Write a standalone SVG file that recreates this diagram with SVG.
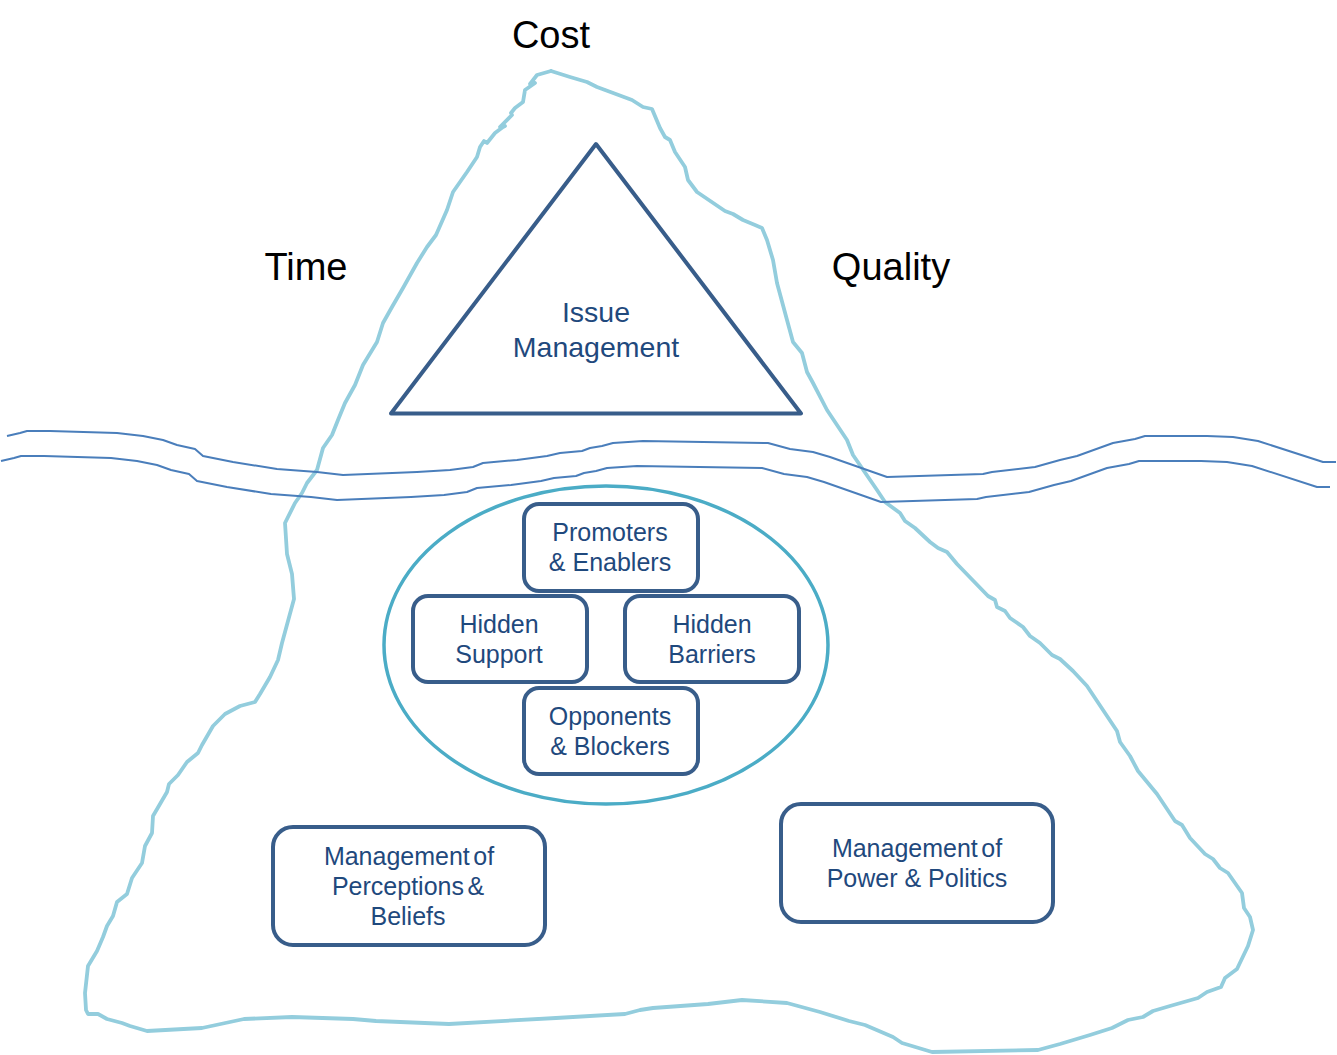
<svg xmlns="http://www.w3.org/2000/svg" xmlns:xlink="http://www.w3.org/1999/xlink" width="1337" height="1055" viewBox="0 0 1337 1055">
<style>
text{font-family:"Liberation Sans",Arial,sans-serif;text-anchor:middle}
.k{font-size:38px;fill:#000}
.t{font-size:25px;fill:#1f497d}
.i{font-size:28.5px;fill:#1f497d}
.w{word-spacing:-3.5px}
.box{fill:#fff;stroke:#385d8a;stroke-width:4}
.berg{fill:none;stroke:#93cddd;stroke-width:3.8;stroke-linejoin:round;stroke-linecap:round}
.water{fill:none;stroke:#4a7ebb;stroke-width:2;stroke-linejoin:round}
</style>
<defs>
<path id="waterline" d="M7 436L20 433L27 431L50 431L117 433L143 436L163 440L177 445L195 449L203 456L233 462L277 469L317 472L343 475L417 472L450 470L473 467L483 463L517 460L547 456L560 453L582 451L590 448L602 446L613 443L643 441L768 443L790 449L813 452L830 457L887 477L983 474L992 472L1035 467L1060 460L1077 456L1113 443L1135 439L1145 436L1207 436L1233 437L1258 441L1323 462L1336 462"/>
</defs>
<path id="iceberg" class="berg" d="M551 71L570 77L587 82L597 87L632 100L643 107L652 109L660 128L665 137L670 140L675 152L685 167L688 180L697 192L725 211L733 214L743 220L755 225L762 228L767 240L773 260L777 283L787 320L793 342L802 353L807 372L813 383L827 410L847 440L853 455L877 490L885 502L900 513L905 521L915 528L930 542L938 548L947 552L957 564L988 596L995 600L997 607L1005 611L1010 618L1023 627L1030 636L1040 643L1052 655L1060 659L1073 671L1087 686L1117 731L1120 742L1130 756L1138 771L1157 794L1175 821L1182 825L1190 838L1205 854L1213 859L1220 868L1228 873L1242 893L1244 908L1250 917L1253 930L1248 946L1237 969L1225 978L1221 987L1207 992L1198 998L1170 1006L1153 1011L1143 1017L1128 1020L1112 1028L1090 1035L1060 1044L1038 1050L932 1052L902 1043L893 1037L865 1025L849 1021L820 1012L787 1003L742 1000L708 1004L653 1008L640 1010L625 1014L556 1018L449 1024L376 1021L353 1019L292 1017L244 1019L202 1028L147 1031L130 1026L122 1023L107 1019L98 1014L88 1014L86 1010L85 993L88 966L97 951L103 937L107 926L113 916L117 902L127 894L132 878L142 863L145 846L152 833L153 816L160 804L167 792L169 784L178 775L187 762L198 753L202 745L213 726L225 714L240 706L255 702L260 694L270 677L278 660L282 643L288 621L294 599L292 574L287 554L285 523L295 503L302 493L307 483L317 470L323 448L332 435L338 420L345 403L355 385L363 365L377 342L383 323L392 307L403 288L417 263L427 247L436 235L447 210L453 192L467 172L477 157L480 147L484 141L487 143L495 133L503 127L505 126L500 127L512 115L511 113L515 108L523 102L525 90L535 83L530 84L537 75L551 71"/>
<g id="water">
<use class="water" xlink:href="#waterline" href="#waterline"/>
<use class="water" xlink:href="#waterline" href="#waterline" transform="translate(-6 25)"/>
</g>
<g id="cost"><text class="k" x="551" y="48">Cost</text></g>
<g id="time"><text class="k" x="306" y="280">Time</text></g>
<g id="quality"><text class="k" x="891" y="280">Quality</text></g>
<g id="issue-management">
<path d="M596 144L801 413.500H391Z" fill="none" stroke="#385d8a" stroke-width="4" stroke-linejoin="round"/>
<text class="i" x="596" y="322">Issue</text>
<text class="i" x="596" y="357">Management</text>
</g>
<g id="stakeholders"><ellipse cx="606" cy="645" rx="222" ry="159" fill="none" stroke="#4bacc6" stroke-width="3.5"/></g>
<g id="promoters">
<rect class="box" x="524" y="504" width="174" height="87" rx="15"/>
<text class="t" x="610" y="541">Promoters</text>
<text class="t" x="610" y="571">&amp; Enablers</text>
</g>
<g id="hidden-support">
<rect class="box" x="413" y="596" width="174" height="86" rx="15"/>
<text class="t" x="499" y="633">Hidden</text>
<text class="t" x="499" y="663">Support</text>
</g>
<g id="hidden-barriers">
<rect class="box" x="625" y="596" width="174" height="86" rx="15"/>
<text class="t" x="712" y="633">Hidden</text>
<text class="t" x="712" y="663">Barriers</text>
</g>
<g id="opponents">
<rect class="box" x="524" y="688" width="174" height="86" rx="15"/>
<text class="t" x="610" y="725">Opponents</text>
<text class="t" x="610" y="755">&amp; Blockers</text>
</g>
<g id="perceptions">
<rect class="box" x="273" y="827" width="272" height="118" rx="20"/>
<text class="t w" x="409" y="865">Management of</text>
<text class="t w" x="408" y="895">Perceptions &amp;</text>
<text class="t" x="408" y="925">Beliefs</text>
</g>
<g id="power">
<rect class="box" x="781" y="804" width="272" height="118" rx="20"/>
<text class="t w" x="917" y="857">Management of</text>
<text class="t" x="917" y="887">Power &amp; Politics</text>
</g>
</svg>
